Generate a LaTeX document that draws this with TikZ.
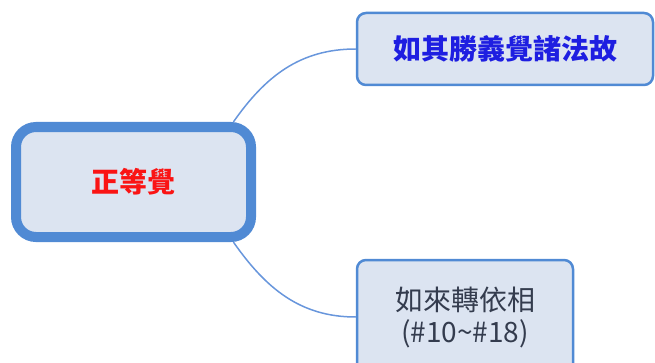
\documentclass[tikz,border=0pt]{standalone}
\usepackage{fontspec}
\usepackage{tikz}
\usepackage{xcolor}
\newfontfamily\cjk{Noto Sans CJK TC}
\definecolor{mapblue}{RGB}{80,138,212}
\definecolor{mapfill}{RGB}{220,228,241}
\definecolor{maplink}{RGB}{104,150,220}
\definecolor{mapred}{RGB}{250,20,20}
\definecolor{mapnavy}{RGB}{30,30,225}
\definecolor{mapgray}{RGB}{52,60,78}
\tikzset{
    central-box/.style = {draw=mapblue, fill=mapfill, line width=10pt, rectangle, rounded corners=20pt, minimum width=235pt, minimum height=110pt, text=mapred, font=\cjk\bfseries\fontsize{28}{32}\selectfont},
    topic-box/.style = {draw=mapblue, fill=mapfill, line width=2.5pt, rectangle, rounded corners=9pt, align=center, font=\cjk\fontsize{28}{32}\selectfont},
    branch/.style = {draw=maplink, line width=1.5pt},
}

\begin{document}
\begin{tikzpicture}[x=1pt,y=1pt]
\useasboundingbox (0,0) rectangle (655,362);
\clip (0,0) rectangle (655,362);
\node [central-box] (root) at (133.5,180) {正等覺};
\node [topic-box, minimum width=296pt, minimum height=72pt, text=mapnavy, font=\cjk\bfseries\fontsize{28}{32}\selectfont] (upper) at (505,313) {如其勝義覺諸法故};
\node [topic-box, minimum width=216pt, minimum height=114pt, text=mapgray] (lower) at (465,45) {如來轉依相\\(\#10\textasciitilde\#18)};
\draw [branch] (root.31) to[out=55, in=180] (upper.west);
\draw [branch] (root.-31) to[out=-55, in=180] (lower.west);
\end{tikzpicture}
\end{document}
